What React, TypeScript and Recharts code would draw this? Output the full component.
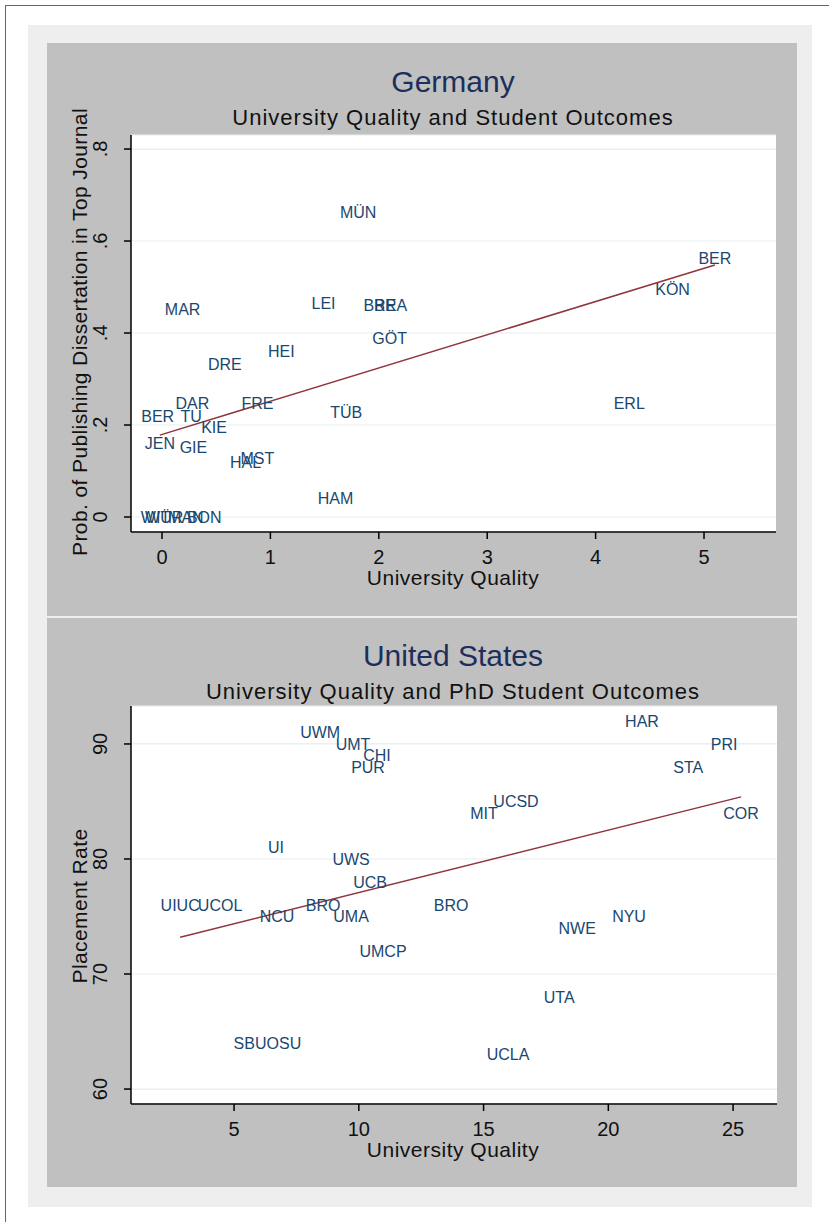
import React from "react";
import {
  ScatterChart,
  Scatter,
  XAxis,
  YAxis,
  CartesianGrid,
} from "recharts";

// Germany
const deNames = [
  "MÜN", "MAR", "LEI", "BRE", "BRA", "GÖT", "HEI", "DRE", "BER", "KÖN",
  "ERL", "DAR", "BER", "TU", "KIE", "FRE", "JEN", "GIE", "HAL", "MST",
  "TÜB", "HAM", "WIT", "WÜR", "MAN", "BON",
];
const deQuality = [
  1.81, 0.19, 1.49, 2.01, 2.11, 2.1, 1.1, 0.58, 5.1, 4.71,
  4.31, 0.28, -0.04, 0.27, 0.48, 0.88, -0.02, 0.29, 0.77, 0.88,
  1.7, 1.6, -0.06, 0.02, 0.22, 0.39,
];
const deProb = [
  0.663, 0.452, 0.465, 0.46, 0.46, 0.389, 0.361, 0.333, 0.563, 0.495,
  0.248, 0.248, 0.22, 0.22, 0.196, 0.248, 0.161, 0.152, 0.12, 0.128,
  0.228, 0.041, 0, 0, 0, 0,
];
const deFitX = [-0.02, 5.1];
const deFitY = [0.178, 0.548];
const deXTicks = [0, 1, 2, 3, 4, 5];
const deYTicks = [0, 0.2, 0.4, 0.6, 0.8];

// United States
const usNames = [
  "UWM", "UMT", "CHI", "PUR", "UI", "UWS", "UCB", "UIUC", "UCOL", "BRO",
  "NCU", "UMA", "UMCP", "HAR", "PRI", "STA", "UCSD", "MIT", "COR", "BRO",
  "NYU", "NWE", "UTA", "UCLA", "SBU", "OSU",
];
const usQuality = [
  8.45, 9.77, 10.73, 10.37, 6.68, 9.69, 10.45, 2.84, 4.44, 8.57,
  6.72, 9.69, 10.97, 21.35, 24.64, 23.2, 16.3, 15.02, 25.32, 13.7,
  20.83, 18.75, 18.03, 15.98, 5.64, 7.0,
];
const usPlacement = [
  91, 90, 89, 88, 81, 80, 78, 76, 76, 76,
  75, 75, 72, 92, 90, 88, 85, 84, 84, 76,
  75, 74, 68, 63, 64, 64,
];
const usFitX = [2.84, 25.32];
const usFitY = [73.2, 85.4];
const usXTicks = [5, 10, 15, 20, 25];
const usYTicks = [60, 70, 80, 90];

const FONT = "'Liberation Sans', Arial, sans-serif";
const LABEL_COLOR = "#1a476f";
const TITLE_COLOR = "#1c2f5c";
const FIT_COLOR = "#90353b";

const zip = (names: string[], xs: number[], ys: number[]) =>
  names.map((name, i) => ({ name, x: xs[i], y: ys[i] }));
const fit = (xs: number[], ys: number[]) => xs.map((x, i) => ({ x, y: ys[i] }));

const fmtDe = (v: number) => (v === 0 ? "0" : String(v).replace(/^0/, ""));

const LabelShape = (props: any) => (
  <text
    x={props.cx}
    y={props.cy}
    dy="0.36em"
    textAnchor="middle"
    fill={LABEL_COLOR}
    fontSize={16}
    fontFamily={FONT}
  >
    {props.payload.name}
  </text>
);

const NoShape = () => <g />;

const XTick = (props: any) => (
  <text
    x={props.x}
    y={props.y + 23}
    textAnchor="middle"
    fill="#111"
    fontSize={20}
    fontFamily={FONT}
  >
    {props.fmt ? props.fmt(props.payload.value) : props.payload.value}
  </text>
);

const YTick = (props: any) => {
  const bx = props.x - 15;
  return (
    <text
      x={bx}
      y={props.y}
      transform={`rotate(-90 ${bx} ${props.y})`}
      textAnchor="middle"
      fill="#111"
      fontSize={20}
      fontFamily={FONT}
    >
      {props.fmt ? props.fmt(props.payload.value) : props.payload.value}
    </text>
  );
};

interface PanelProps {
  height: number;
  top: number;
  xDomain: [number, number];
  yDomain: [number, number];
  xTicks: number[];
  yTicks: number[];
  labels: { name: string; x: number; y: number }[];
  fitLine: { x: number; y: number }[];
  yFmt?: (v: number) => string;
  plotHeight: number;
  plotWidth: number;
}

function Panel(p: PanelProps) {
  const right = 750 - 84 - p.plotWidth;
  const bottom = p.height - p.top - p.plotHeight;
  return (
    <ScatterChart
      width={750}
      height={p.height}
      margin={{ top: p.top, right, bottom: 0, left: 0 }}
    >
      <CartesianGrid
        vertical={false}
        fill="#ffffff"
        stroke="#e3edf0"
        strokeWidth={1.2}
      />
      <XAxis
        type="number"
        dataKey="x"
        domain={p.xDomain}
        ticks={p.xTicks}
        allowDataOverflow
        height={bottom}
        tickSize={7}
        stroke="#000"
        strokeWidth={1.5}
        tick={<XTick />}
      />
      <YAxis
        type="number"
        dataKey="y"
        domain={p.yDomain}
        ticks={p.yTicks}
        allowDataOverflow
        width={84}
        tickSize={7}
        stroke="#000"
        strokeWidth={1.5}
        tick={<YTick fmt={p.yFmt} />}
      />
      <Scatter
        data={p.fitLine}
        line={{ stroke: FIT_COLOR, strokeWidth: 1.5 }}
        shape={NoShape}
        isAnimationActive={false}
      />
      <Scatter data={p.labels} shape={LabelShape} isAnimationActive={false} />
    </ScatterChart>
  );
}

export default function App() {
  const txt = { fontFamily: FONT, fill: "#111" };
  return (
    <div
      style={{
        position: "absolute",
        left: 0,
        top: 0,
        width: 829,
        height: 1222,
        background: "#fff",
        fontFamily: FONT,
      }}
    >
      <div
        style={{
          position: "absolute",
          left: 5,
          top: 5,
          width: 830,
          height: 1230,
          borderTop: "1px solid #666",
          borderLeft: "1px solid #666",
        }}
      />
      <div
        style={{
          position: "absolute",
          left: 28,
          top: 25,
          width: 784,
          height: 1182,
          background: "#eeeeee",
        }}
      />
      <div
        style={{
          position: "absolute",
          left: 47,
          top: 43,
          width: 750,
          height: 573,
          background: "#c0c0c0",
        }}
      >
        <Panel
          height={573}
          top={92}
          plotHeight={397}
          plotWidth={645}
          xDomain={[-0.286, 5.664]}
          yDomain={[-0.0326, 0.8305]}
          xTicks={deXTicks}
          yTicks={deYTicks}
          labels={zip(deNames, deQuality, deProb)}
          fitLine={fit(deFitX, deFitY)}
          yFmt={fmtDe}
        />
      </div>
      <div
        style={{
          position: "absolute",
          left: 47,
          top: 618,
          width: 750,
          height: 569,
          background: "#c0c0c0",
        }}
      >
        <Panel
          height={569}
          top={88}
          plotHeight={398}
          plotWidth={646}
          xDomain={[0.87, 26.76]}
          yDomain={[58.7, 93.3]}
          xTicks={usXTicks}
          yTicks={usYTicks}
          labels={zip(usNames, usQuality, usPlacement)}
          fitLine={fit(usFitX, usFitY)}
        />
      </div>
      <svg
        width={829}
        height={1222}
        style={{ position: "absolute", left: 0, top: 0, pointerEvents: "none" }}
      >
        <text x={453} y={92} textAnchor="middle" fontSize={30} fontFamily={FONT} fill={TITLE_COLOR}>
          Germany
        </text>
        <text x={453} y={125} textAnchor="middle" fontSize={22} letterSpacing={1} {...txt}>
          University Quality and Student Outcomes
        </text>
        <text x={453} y={585} textAnchor="middle" fontSize={21} letterSpacing={0.5} {...txt}>
          University Quality
        </text>
        <text
          x={87}
          y={332}
          transform="rotate(-90 87 332)"
          textAnchor="middle"
          fontSize={21}
          letterSpacing={0.4}
          {...txt}
        >
          Prob. of Publishing Dissertation in Top Journal
        </text>

        <text x={453} y={666} textAnchor="middle" fontSize={30} fontFamily={FONT} fill={TITLE_COLOR}>
          United States
        </text>
        <text x={453} y={699} textAnchor="middle" fontSize={22} letterSpacing={1} {...txt}>
          University Quality and PhD Student Outcomes
        </text>
        <text x={453} y={1157} textAnchor="middle" fontSize={21} letterSpacing={0.5} {...txt}>
          University Quality
        </text>
        <text
          x={87}
          y={906}
          transform="rotate(-90 87 906)"
          textAnchor="middle"
          fontSize={21}
          letterSpacing={0.4}
          {...txt}
        >
          Placement Rate
        </text>
      </svg>
    </div>
  );
}
